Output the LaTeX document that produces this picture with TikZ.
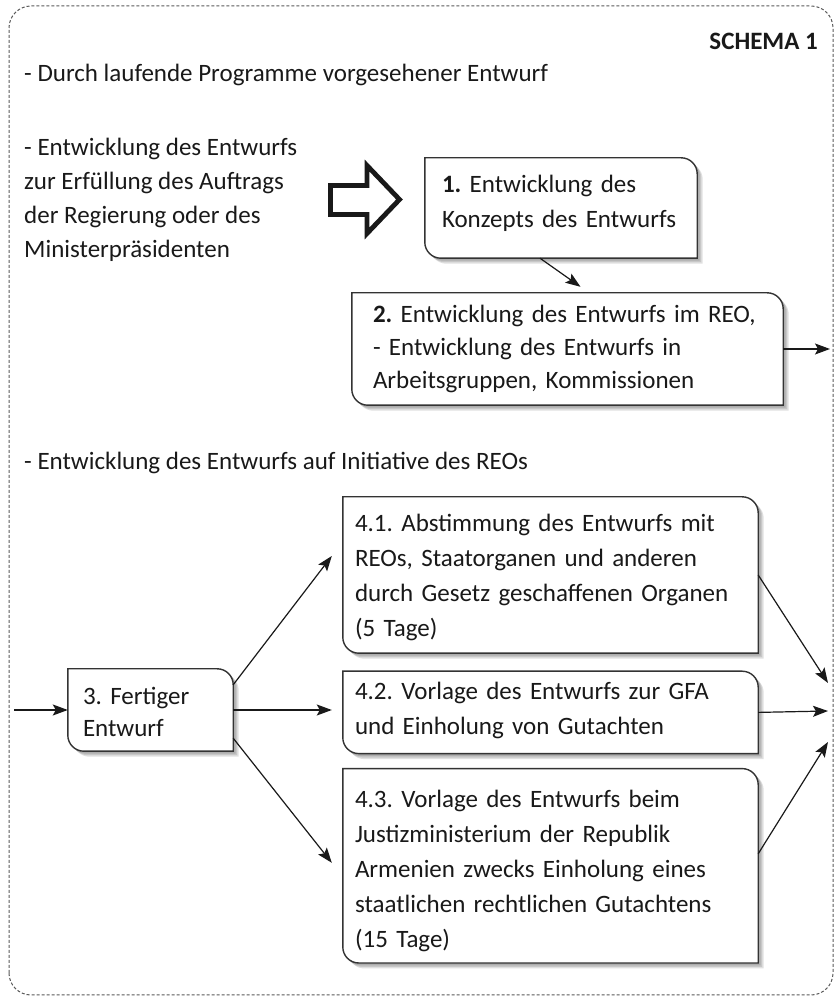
\documentclass[tikz,border=0pt]{standalone}
\usepackage{fontspec}
\setmainfont{Carlito}
\usetikzlibrary{arrows.meta,positioning,backgrounds}

% leaf outline (round top right / bottom left) with a soft shadow
\newcommand\leaf[1]{%
  \begin{scope}[on background layer]
    \foreach \o/\c in {5.5/12,4/22,2.5/32}
      \fill[black!\c, transform canvas={shift={(\o pt,-\o pt)}}]
        (#1.north west) -- ([xshift=-16pt]#1.north east)
        arc[start angle=90,end angle=0,radius=16pt] -- (#1.south east)
        -- ([xshift=16pt]#1.south west)
        arc[start angle=270,end angle=180,radius=16pt] -- cycle;
    \draw[leafline]
        (#1.north west) -- ([xshift=-16pt]#1.north east)
        arc[start angle=90,end angle=0,radius=16pt] -- (#1.south east)
        -- ([xshift=16pt]#1.south west)
        arc[start angle=270,end angle=180,radius=16pt] -- cycle;
  \end{scope}}

\begin{document}
\begin{tikzpicture}[x=1pt, y=1pt,
   txt/.style={font=\fontsize{25pt}{34pt}\selectfont\frenchspacing, text=black!90, inner sep=0pt, align=left},
   box/.style={font=\fontsize{25pt}{35pt}\selectfont\frenchspacing, text=black!90, inner xsep=12pt, inner ysep=0pt,
               text height=0pt, align=left},
   tight/.style={font=\fontsize{25pt}{#1}\selectfont\frenchspacing},
   leafline/.style={draw=black!80, fill=white, line width=1.4pt},
   arr/.style={-{Stealth[length=15pt,width=11pt,inset=3pt]}, line width=1.2pt, black!90},
   frame/.style={dashed, dash pattern=on 3pt off 2pt, black!65, line width=1pt, rounded corners=22pt}]

\useasboundingbox (0,0) rectangle (839,997);
\draw[frame] (9,2) rectangle (833,991);

\node[txt, anchor=base east, font=\fontsize{25pt}{34pt}\selectfont\bfseries] (title) at (818,947) {SCHEMA 1};
\node[txt, anchor=base west] (laufend) at (24,915) {- Durch laufende Programme vorgesehener Entwurf};
\node[txt, anchor=base west] (auftrag) at (24,739) {- Entwicklung des Entwurfs\\zur Erfüllung des Auftrags\\der Regierung oder des\\Ministerpräsidenten};
\node[txt, anchor=base west] (initiative) at (24,527) {- Entwicklung des Entwurfs auf Initiative des REOs};

% hollow arrow
\draw[line width=4.8pt, line join=miter, black!90]
  (330.5,811.5) -- (367,811.5) -- (367,831.5) -- (399.5,797.5)
  -- (367,763.5) -- (367,782.5) -- (330.5,782.5) -- cycle;

\node[box, minimum width=272pt, minimum height=100pt, text width=238pt, inner xsep=17pt, text depth=30pt] (b1) at (561,789)
  {\textbf{1.} Entwicklung des\\Konzepts des Entwurfs};
\node[box, tight=33pt, minimum width=431pt, minimum height=112pt, text width=389pt, inner xsep=21pt, text depth=52pt] (b2) at (567.5,648)
  {\makebox[405pt][s]{\textbf{2.} Entwicklung des Entwurfs im REO,}\\- Entwicklung des Entwurfs in\\Arbeitsgruppen, Kommissionen};
\node[box, tight=32pt, minimum width=165pt, minimum height=82pt, text width=135pt, inner xsep=15pt, text depth=10pt] (b3) at (150.5,287)
  {3. Fertiger\\Entwurf};
\node[box, minimum width=415pt, minimum height=156pt, text width=391pt, text depth=86pt] (b41) at (550.5,422)
  {4.1. Abstimmung des Entwurfs mit\\REOs, Staatorganen und anderen\\durch Gesetz geschaffenen Organen\\(5 Tage)};
\node[box, minimum width=415pt, minimum height=82pt, text width=391pt, text depth=26pt, below=18pt of b41] (b42)
  {4.2. Vorlage des Entwurfs zur GFA\\und Einholung von Gutachten};
\node[box, minimum width=415pt, minimum height=194pt, text width=391pt, text depth=116pt, below=15pt of b42] (b43)
  {4.3. Vorlage des Entwurfs beim\\Justizministerium der Republik\\Armenien zwecks Einholung eines\\staatlichen rechtlichen Gutachtens\\(15 Tage)};

\foreach \b in {b1,b2,b3,b41,b42,b43} \leaf{\b};

\coordinate (in) at (14,287);
\coordinate (r2) at (830,648);
\coordinate (o1) at (828,314);
\coordinate (o2) at (828,286);
\coordinate (o3) at (828,255);

\draw[arr] ([xshift=-21pt]b1.south) -- ([xshift=13pt,yshift=6pt]b2.north);
\draw[arr] (b2.east) -- (r2);
\draw[arr] (in) -- (b3);
\draw[arr] ([yshift=-16pt]b3.north east) -- ([xshift=-11pt,yshift=19pt]b41.west);
\draw[arr, shorten >=11pt] (b3.east) -- (b3.east -| b42.west);
\draw[arr] ([yshift=13pt]b3.south east) -- ([xshift=-11pt,yshift=3pt]b43.west);
\draw[arr] (b41.east) -- (o1);
\draw[arr] (b42.east) -- (o2);
\draw[arr] ([yshift=12pt]b43.east) -- (o3);

\end{tikzpicture}
\end{document}
